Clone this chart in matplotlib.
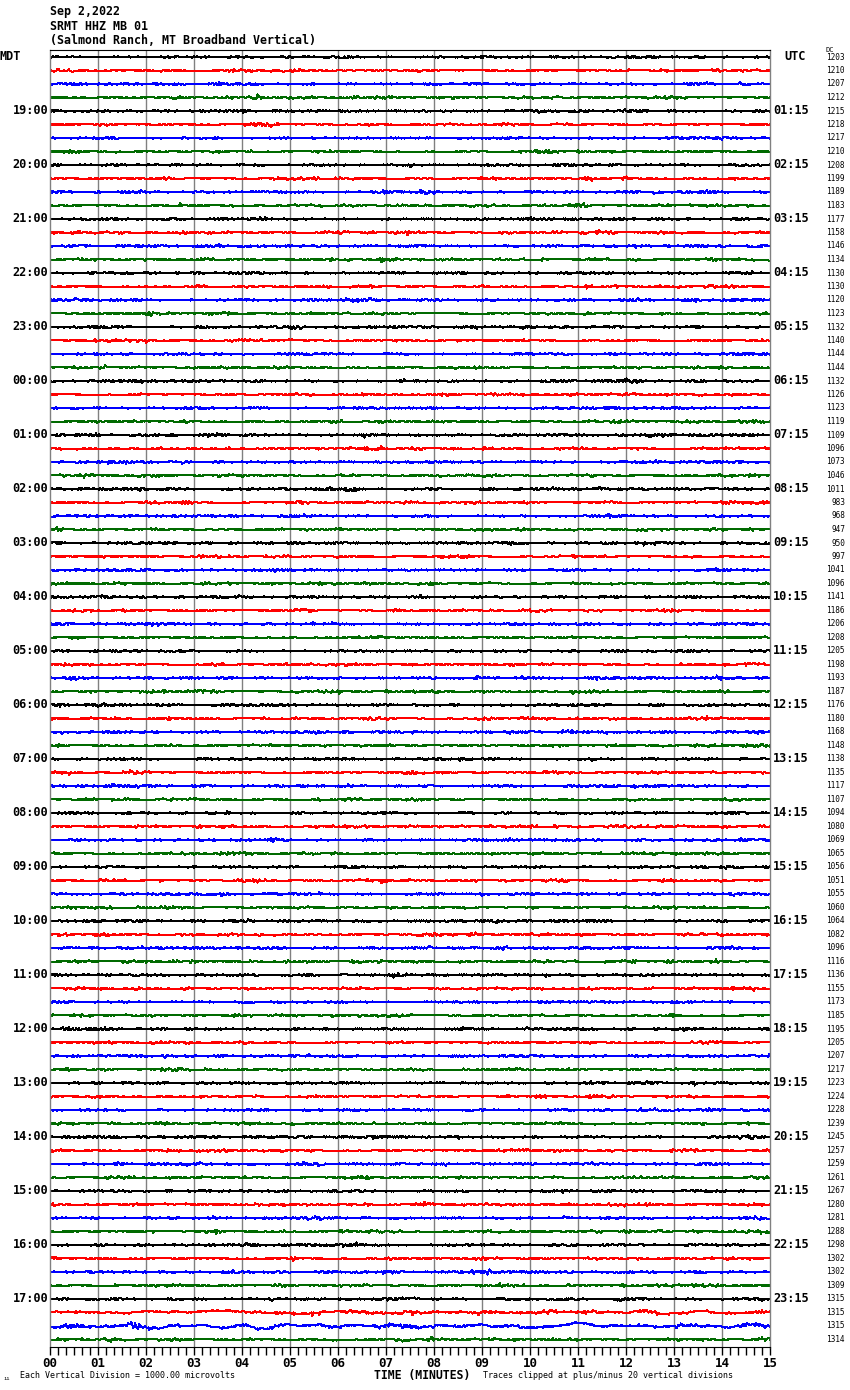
import numpy as np
import matplotlib.pyplot as plt
from matplotlib.transforms import blended_transform_factory
from matplotlib.ticker import MultipleLocator

W, H = 850, 1390

title_lines = ["Sep 2,2022", "SRMT HHZ MB 01", "(Salmond Ranch, MT Broadband Vertical)"]

# one label every 4 traces (one trace = 15 minutes), starting at trace 4
local_hours = ["19:00", "20:00", "21:00", "22:00", "23:00", "00:00", "01:00", "02:00",
               "03:00", "04:00", "05:00", "06:00", "07:00", "08:00", "09:00", "10:00",
               "11:00", "12:00", "13:00", "14:00", "15:00", "16:00", "17:00"]
utc_hours = ["01:15", "02:15", "03:15", "04:15", "05:15", "06:15", "07:15", "08:15",
             "09:15", "10:15", "11:15", "12:15", "13:15", "14:15", "15:15", "16:15",
             "17:15", "18:15", "19:15", "20:15", "21:15", "22:15", "23:15"]

# DC offset printed at the right of each trace
dc_offsets = [1203, 1210, 1207, 1212, 1215, 1218, 1217, 1210,
              1208, 1199, 1189, 1183, 1177, 1158, 1146, 1134,
              1130, 1130, 1120, 1123, 1132, 1140, 1144, 1144,
              1132, 1126, 1123, 1119, 1109, 1096, 1073, 1046,
              1011, 983, 968, 947, 950, 997, 1041, 1096,
              1141, 1186, 1206, 1208, 1205, 1198, 1193, 1187,
              1176, 1180, 1168, 1148, 1138, 1135, 1117, 1107,
              1094, 1080, 1069, 1065, 1056, 1051, 1055, 1060,
              1064, 1082, 1096, 1116, 1136, 1155, 1173, 1185,
              1195, 1205, 1207, 1217, 1223, 1224, 1228, 1239,
              1245, 1257, 1259, 1261, 1267, 1280, 1281, 1288,
              1298, 1302, 1302, 1309, 1315, 1315, 1315, 1314]

trace_colors = ["black", "red", "blue", "#006a00"]

# wiggle size of each trace in pixels
noise_px = [0.65] * 92 + [0.7, 0.85, 0.85, 0.7]
# slow wander in pixels, only visible on the last rows
drift_px = [0.1] * 92 + [0.3, 1.0, 1.8, 0.3]

minute_labels = ["%02d" % m for m in range(16)]

n_traces = len(dc_offsets)
trace_px = 13.5  # pixel spacing between traces

fig = plt.figure(figsize=(W / 100, H / 100), dpi=100)
ax = fig.add_axes([50 / W, (H - 1347) / H, 720 / W, (1347 - 50) / H])
ax.set_xlim(0, 15)
ax.set_ylim((1347 - 57) / trace_px, (50 - 57) / trace_px)

# seismic wiggles: texture is synthetic, size per trace from the lists above
rng = np.random.default_rng(902)
t = np.linspace(0, 15, 720)
for i in range(n_traces):
    env = np.abs(np.convolve(rng.normal(size=t.size + 30), np.ones(30) / 30, "valid"))[:t.size]
    env = 0.2 + env / env.max() * 1.4
    wig = np.round(rng.normal(size=t.size) * env * noise_px[i] * 1.6) / 1.6
    slow = np.convolve(rng.normal(size=t.size + 20), np.ones(20) / 20, "valid")[:t.size]
    slow = slow / (np.abs(slow).max() + 1e-9) * drift_px[i] * 2
    y = i - (wig + slow) / trace_px
    ax.plot(t, y, color=trace_colors[i % 4], lw=0.75, antialiased=False)

# minute grid
for m in range(1, 15):
    ax.axvline(m, color="#808080", lw=1.0, zorder=0)
for side in ("left", "right"):
    ax.spines[side].set_color("#808080")
    ax.spines[side].set_linewidth(1.0)
ax.spines["top"].set_color("black")
ax.spines["bottom"].set_color("black")

ax.yaxis.set_visible(False)
ax.xaxis.set_major_locator(MultipleLocator(1))
ax.xaxis.set_minor_locator(MultipleLocator(1 / 6))
ax.set_xticks(range(16))
ax.set_xticklabels(minute_labels, family="DejaVu Sans Mono", weight="bold", fontsize=9)
ax.tick_params(axis="x", which="both", direction="out", length=6, width=1, pad=1)

mono = "DejaVu Sans Mono"
lbl_tr = blended_transform_factory(fig.transFigure, ax.transData)

for k, (lo, ut) in enumerate(zip(local_hours, utc_hours)):
    row = 4 * (k + 1)
    ax.text(48 / W, row, lo, transform=lbl_tr, ha="right", va="center",
            family=mono, weight="bold", fontsize=8.6)
    ax.text(773 / W, row, ut, transform=lbl_tr, ha="left", va="center",
            family=mono, weight="bold", fontsize=8.6)

for i, dc in enumerate(dc_offsets):
    ax.text(845 / W, i, str(dc), transform=lbl_tr, ha="right", va="center",
            family=mono, fontsize=5.6)

ax.text(0 / W, 0, "MDT", transform=lbl_tr, ha="left", va="center",
        family=mono, weight="bold", fontsize=8.6)
ax.text(784 / W, 0, "UTC", transform=lbl_tr, ha="left", va="center",
        family=mono, weight="bold", fontsize=8.6)
ax.text(825 / W, -0.5, "DC", transform=lbl_tr, ha="left", va="center",
        family=mono, fontsize=5)

for j, line in enumerate(title_lines):
    fig.text(50 / W, 1 - (12 + 14.5 * j) / H, line, ha="left", va="center",
             family=mono, weight="bold", fontsize=8.4)

fig.text(20 / W, 1 - 1376 / H, "Each Vertical Division = 1000.00 microvolts",
         ha="left", va="center", family=mono, fontsize=6)
fig.text(374 / W, 1 - 1375 / H, "TIME (MINUTES)", ha="left", va="center",
         family=mono, weight="bold", fontsize=8.3)
fig.text(483 / W, 1 - 1376 / H, "Traces clipped at plus/minus 20 vertical divisions",
         ha="left", va="center", family=mono, fontsize=6)
fig.text(3 / W, 1 - 1379 / H, "\u0131\u0131", ha="left", va="center",
         family=mono, fontsize=4)

fig.savefig("out.png", dpi=100)
